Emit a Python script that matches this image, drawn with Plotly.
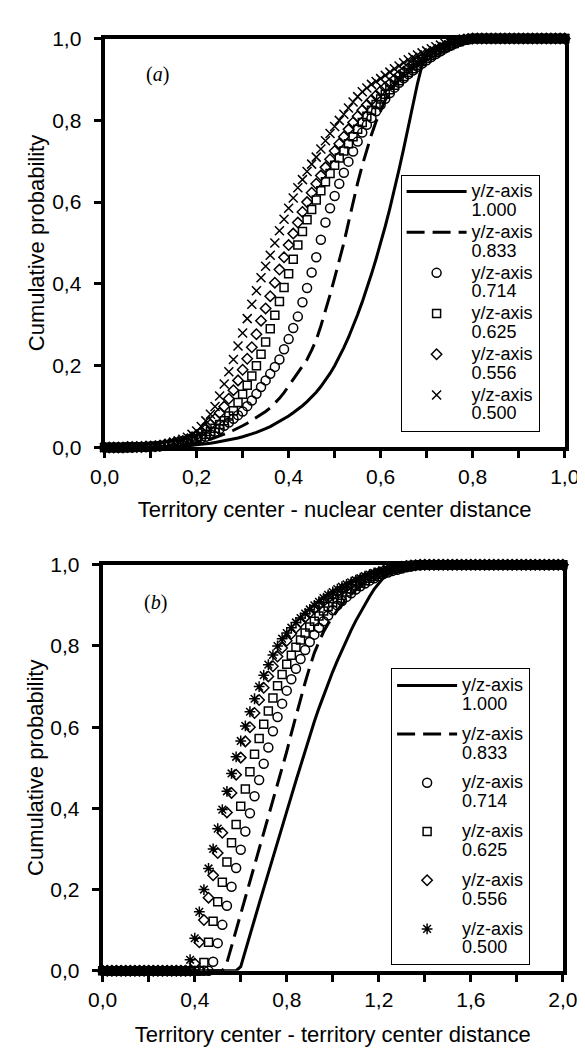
import plotly.graph_objects as go

# ---------------- Panel (a): territory center - nuclear center distance ----------------
TOP_X = [
    0.00, 0.01, 0.02, 0.03, 0.04, 0.05, 0.06, 0.07, 0.08, 0.09,
    0.10, 0.11, 0.12, 0.13, 0.14, 0.15, 0.16, 0.17, 0.18, 0.19,
    0.20, 0.21, 0.22, 0.23, 0.24, 0.25, 0.26, 0.27, 0.28, 0.29,
    0.30, 0.31, 0.32, 0.33, 0.34, 0.35, 0.36, 0.37, 0.38, 0.39,
    0.40, 0.41, 0.42, 0.43, 0.44, 0.45, 0.46, 0.47, 0.48, 0.49,
    0.50, 0.51, 0.52, 0.53, 0.54, 0.55, 0.56, 0.57, 0.58, 0.59,
    0.60, 0.61, 0.62, 0.63, 0.64, 0.65, 0.66, 0.67, 0.68, 0.69,
    0.70, 0.71, 0.72, 0.73, 0.74, 0.75, 0.76, 0.77, 0.78, 0.79,
    0.80, 0.81, 0.82, 0.83, 0.84, 0.85, 0.86, 0.87, 0.88, 0.89,
    0.90, 0.91, 0.92, 0.93, 0.94, 0.95, 0.96, 0.97, 0.98, 0.99,
    1.00,
]
TOP_1000 = [
    0, 0, 0, 0, 0, 0, 0, 0, 0, 0,
    0.001, 0.001, 0.001, 0.001, 0.002, 0.002, 0.003, 0.003, 0.004, 0.005,
    0.006, 0.007, 0.008, 0.010, 0.012, 0.014, 0.016, 0.018, 0.020, 0.023,
    0.026, 0.029, 0.033, 0.037, 0.041, 0.046, 0.051, 0.057, 0.063, 0.070,
    0.077, 0.085, 0.093, 0.102, 0.112, 0.123, 0.135, 0.149, 0.164, 0.181,
    0.200, 0.221, 0.244, 0.269, 0.296, 0.325, 0.356, 0.389, 0.424, 0.461,
    0.500, 0.541, 0.585, 0.631, 0.680, 0.731, 0.784, 0.838, 0.890, 0.935,
    0.955, 0.963, 0.970, 0.976, 0.981, 0.986, 0.990, 0.994, 0.997, 0.999,
    1.0, 1.0, 1.0, 1.0, 1.0, 1.0, 1.0, 1.0, 1.0, 1.0,
    1.0, 1.0, 1.0, 1.0, 1.0, 1.0, 1.0, 1.0, 1.0, 1.0,
    1.0,
]
TOP_0833 = [
    0, 0, 0, 0, 0, 0, 0, 0.001, 0.001, 0.001,
    0.001, 0.002, 0.002, 0.003, 0.003, 0.004, 0.005, 0.007, 0.008, 0.010,
    0.012, 0.014, 0.017, 0.020, 0.024, 0.028, 0.032, 0.037, 0.042, 0.047,
    0.053, 0.059, 0.066, 0.073, 0.080, 0.088, 0.097, 0.108, 0.120, 0.134,
    0.150, 0.165, 0.180, 0.197, 0.215, 0.238, 0.263, 0.297, 0.333, 0.373,
    0.415, 0.457, 0.500, 0.550, 0.600, 0.647, 0.690, 0.730, 0.765, 0.797,
    0.825, 0.850, 0.870, 0.886, 0.900, 0.911, 0.921, 0.930, 0.939, 0.947,
    0.955, 0.962, 0.968, 0.974, 0.980, 0.985, 0.990, 0.994, 0.997, 0.999,
    1.0, 1.0, 1.0, 1.0, 1.0, 1.0, 1.0, 1.0, 1.0, 1.0,
    1.0, 1.0, 1.0, 1.0, 1.0, 1.0, 1.0, 1.0, 1.0, 1.0,
    1.0,
]
TOP_0714 = [
    0, 0, 0, 0, 0, 0, 0, 0.001, 0.001, 0.001,
    0.002, 0.002, 0.003, 0.004, 0.005, 0.006, 0.008, 0.010, 0.012, 0.015,
    0.018, 0.022, 0.026, 0.032, 0.038, 0.045, 0.053, 0.061, 0.070, 0.079,
    0.088, 0.101, 0.115, 0.131, 0.148, 0.164, 0.180, 0.197, 0.215, 0.240,
    0.265, 0.292, 0.320, 0.355, 0.390, 0.428, 0.465, 0.508, 0.550, 0.585,
    0.615, 0.645, 0.672, 0.699, 0.724, 0.748, 0.770, 0.789, 0.806, 0.822,
    0.838, 0.853, 0.867, 0.880, 0.892, 0.903, 0.913, 0.922, 0.931, 0.939,
    0.947, 0.955, 0.962, 0.969, 0.976, 0.982, 0.987, 0.992, 0.996, 0.998,
    1.0, 1.0, 1.0, 1.0, 1.0, 1.0, 1.0, 1.0, 1.0, 1.0,
    1.0, 1.0, 1.0, 1.0, 1.0, 1.0, 1.0, 1.0, 1.0, 1.0,
    1.0,
]
TOP_0625 = [
    0, 0, 0, 0, 0, 0.001, 0.001, 0.001, 0.001, 0.001,
    0.002, 0.003, 0.004, 0.005, 0.006, 0.008, 0.010, 0.012, 0.015, 0.018,
    0.022, 0.027, 0.032, 0.039, 0.047, 0.056, 0.065, 0.077, 0.090, 0.110,
    0.130, 0.152, 0.175, 0.200, 0.228, 0.258, 0.290, 0.323, 0.357, 0.391,
    0.425, 0.460, 0.495, 0.528, 0.557, 0.582, 0.605, 0.628, 0.650, 0.670,
    0.690, 0.708, 0.725, 0.743, 0.760, 0.778, 0.795, 0.810, 0.825, 0.839,
    0.852, 0.864, 0.875, 0.886, 0.897, 0.907, 0.917, 0.926, 0.935, 0.944,
    0.952, 0.959, 0.966, 0.972, 0.978, 0.983, 0.988, 0.992, 0.996, 0.998,
    1.0, 1.0, 1.0, 1.0, 1.0, 1.0, 1.0, 1.0, 1.0, 1.0,
    1.0, 1.0, 1.0, 1.0, 1.0, 1.0, 1.0, 1.0, 1.0, 1.0,
    1.0,
]
TOP_0556 = [
    0, 0, 0, 0, 0, 0.001, 0.001, 0.001, 0.001, 0.002,
    0.002, 0.003, 0.004, 0.006, 0.008, 0.010, 0.013, 0.016, 0.020, 0.025,
    0.030, 0.037, 0.045, 0.056, 0.070, 0.084, 0.100, 0.119, 0.140, 0.164,
    0.190, 0.217, 0.245, 0.277, 0.310, 0.340, 0.370, 0.403, 0.435, 0.465,
    0.495, 0.523, 0.550, 0.576, 0.600, 0.623, 0.645, 0.665, 0.685, 0.705,
    0.725, 0.743, 0.760, 0.778, 0.795, 0.810, 0.825, 0.838, 0.850, 0.861,
    0.872, 0.881, 0.890, 0.900, 0.910, 0.919, 0.928, 0.936, 0.944, 0.951,
    0.958, 0.964, 0.970, 0.976, 0.982, 0.986, 0.990, 0.994, 0.997, 0.999,
    1.0, 1.0, 1.0, 1.0, 1.0, 1.0, 1.0, 1.0, 1.0, 1.0,
    1.0, 1.0, 1.0, 1.0, 1.0, 1.0, 1.0, 1.0, 1.0, 1.0,
    1.0,
]
TOP_0500 = [
    0, 0, 0, 0, 0, 0.001, 0.001, 0.001, 0.001, 0.002,
    0.002, 0.003, 0.005, 0.007, 0.010, 0.013, 0.016, 0.020, 0.025, 0.032,
    0.040, 0.051, 0.065, 0.081, 0.100, 0.126, 0.155, 0.185, 0.215, 0.248,
    0.280, 0.315, 0.350, 0.383, 0.415, 0.443, 0.470, 0.500, 0.530, 0.558,
    0.585, 0.610, 0.635, 0.655, 0.675, 0.693, 0.710, 0.730, 0.750, 0.768,
    0.785, 0.800, 0.815, 0.830, 0.845, 0.858, 0.870, 0.879, 0.888, 0.895,
    0.902, 0.910, 0.918, 0.926, 0.933, 0.941, 0.948, 0.954, 0.960, 0.965,
    0.970, 0.975, 0.980, 0.984, 0.988, 0.992, 0.995, 0.997, 0.999, 1.0,
    1.0, 1.0, 1.0, 1.0, 1.0, 1.0, 1.0, 1.0, 1.0, 1.0,
    1.0, 1.0, 1.0, 1.0, 1.0, 1.0, 1.0, 1.0, 1.0, 1.0,
    1.0,
]

# ---------------- Panel (b): territory center - territory center distance ----------------
BOT_X = [
    0.00, 0.02, 0.04, 0.06, 0.08, 0.10, 0.12, 0.14, 0.16, 0.18,
    0.20, 0.22, 0.24, 0.26, 0.28, 0.30, 0.32, 0.34, 0.36, 0.38,
    0.40, 0.42, 0.44, 0.46, 0.48, 0.50, 0.52, 0.54, 0.56, 0.58,
    0.60, 0.62, 0.64, 0.66, 0.68, 0.70, 0.72, 0.74, 0.76, 0.78,
    0.80, 0.82, 0.84, 0.86, 0.88, 0.90, 0.92, 0.94, 0.96, 0.98,
    1.00, 1.02, 1.04, 1.06, 1.08, 1.10, 1.12, 1.14, 1.16, 1.18,
    1.20, 1.22, 1.24, 1.26, 1.28, 1.30, 1.32, 1.34, 1.36, 1.38,
    1.40, 1.42, 1.44, 1.46, 1.48, 1.50, 1.52, 1.54, 1.56, 1.58,
    1.60, 1.62, 1.64, 1.66, 1.68, 1.70, 1.72, 1.74, 1.76, 1.78,
    1.80, 1.82, 1.84, 1.86, 1.88, 1.90, 1.92, 1.94, 1.96, 1.98,
    2.00,
]
BOT_1000 = [
    0, 0, 0, 0, 0, 0, 0, 0, 0, 0,
    0, 0, 0, 0, 0, 0, 0, 0, 0, 0,
    0, 0, 0, 0, 0, 0, 0, 0, 0, 0,
    0.010, 0.050, 0.090, 0.128, 0.165, 0.203, 0.240, 0.278, 0.316, 0.354,
    0.392, 0.430, 0.468, 0.506, 0.543, 0.579, 0.614, 0.647, 0.678, 0.708,
    0.737, 0.764, 0.790, 0.815, 0.839, 0.862, 0.883, 0.903, 0.922, 0.940,
    0.955, 0.968, 0.979, 0.988, 0.994, 0.998, 1.0, 1.0, 1.0, 1.0,
    1.0, 1.0, 1.0, 1.0, 1.0, 1.0, 1.0, 1.0, 1.0, 1.0,
    1.0, 1.0, 1.0, 1.0, 1.0, 1.0, 1.0, 1.0, 1.0, 1.0,
    1.0, 1.0, 1.0, 1.0, 1.0, 1.0, 1.0, 1.0, 1.0, 1.0,
    1.0,
]
BOT_0833 = [
    0, 0, 0, 0, 0, 0, 0, 0, 0, 0,
    0, 0, 0, 0, 0, 0, 0, 0, 0, 0,
    0, 0, 0, 0, 0, 0, 0, 0.020, 0.060, 0.100,
    0.140, 0.180, 0.220, 0.260, 0.300, 0.337, 0.375, 0.415, 0.455, 0.500,
    0.540, 0.585, 0.628, 0.668, 0.710, 0.748, 0.783, 0.810, 0.835, 0.855,
    0.873, 0.888, 0.902, 0.915, 0.927, 0.938, 0.948, 0.957, 0.965, 0.972,
    0.978, 0.983, 0.988, 0.992, 0.995, 0.997, 0.999, 1.0, 1.0, 1.0,
    1.0, 1.0, 1.0, 1.0, 1.0, 1.0, 1.0, 1.0, 1.0, 1.0,
    1.0, 1.0, 1.0, 1.0, 1.0, 1.0, 1.0, 1.0, 1.0, 1.0,
    1.0, 1.0, 1.0, 1.0, 1.0, 1.0, 1.0, 1.0, 1.0, 1.0,
    1.0,
]
BOT_0714 = [
    0, 0, 0, 0, 0, 0, 0, 0, 0, 0,
    0, 0, 0, 0, 0, 0, 0, 0, 0, 0,
    0, 0, 0, 0, 0.022, 0.068, 0.113, 0.160, 0.207, 0.253,
    0.298, 0.343, 0.388, 0.430, 0.470, 0.510, 0.550, 0.590, 0.625, 0.658,
    0.690, 0.718, 0.744, 0.768, 0.790, 0.810, 0.828, 0.845, 0.861, 0.875,
    0.888, 0.900, 0.911, 0.921, 0.930, 0.939, 0.947, 0.954, 0.961, 0.967,
    0.972, 0.977, 0.981, 0.985, 0.988, 0.991, 0.994, 0.996, 0.998, 0.999,
    1.0, 1.0, 1.0, 1.0, 1.0, 1.0, 1.0, 1.0, 1.0, 1.0,
    1.0, 1.0, 1.0, 1.0, 1.0, 1.0, 1.0, 1.0, 1.0, 1.0,
    1.0, 1.0, 1.0, 1.0, 1.0, 1.0, 1.0, 1.0, 1.0, 1.0,
    1.0,
]
BOT_0625 = [
    0, 0, 0, 0, 0, 0, 0, 0, 0, 0,
    0, 0, 0, 0, 0, 0, 0, 0, 0, 0,
    0, 0, 0.020, 0.070, 0.122, 0.170, 0.218, 0.268, 0.315, 0.360,
    0.405, 0.448, 0.490, 0.533, 0.572, 0.607, 0.640, 0.672, 0.702, 0.730,
    0.755, 0.777, 0.797, 0.815, 0.832, 0.847, 0.861, 0.874, 0.886, 0.897,
    0.907, 0.916, 0.925, 0.933, 0.941, 0.948, 0.955, 0.961, 0.967, 0.972,
    0.977, 0.981, 0.985, 0.988, 0.991, 0.994, 0.996, 0.998, 0.999, 1.0,
    1.0, 1.0, 1.0, 1.0, 1.0, 1.0, 1.0, 1.0, 1.0, 1.0,
    1.0, 1.0, 1.0, 1.0, 1.0, 1.0, 1.0, 1.0, 1.0, 1.0,
    1.0, 1.0, 1.0, 1.0, 1.0, 1.0, 1.0, 1.0, 1.0, 1.0,
    1.0,
]
BOT_0556 = [
    0, 0, 0, 0, 0, 0, 0, 0, 0, 0,
    0, 0, 0, 0, 0, 0, 0, 0, 0, 0,
    0.018, 0.070, 0.125, 0.180, 0.235, 0.290, 0.340, 0.390, 0.438, 0.483,
    0.525, 0.565, 0.600, 0.635, 0.667, 0.697, 0.725, 0.750, 0.774, 0.795,
    0.813, 0.830, 0.845, 0.859, 0.871, 0.882, 0.892, 0.901, 0.910, 0.918,
    0.926, 0.933, 0.940, 0.946, 0.952, 0.958, 0.963, 0.968, 0.973, 0.977,
    0.981, 0.985, 0.988, 0.991, 0.993, 0.995, 0.997, 0.998, 0.999, 1.0,
    1.0, 1.0, 1.0, 1.0, 1.0, 1.0, 1.0, 1.0, 1.0, 1.0,
    1.0, 1.0, 1.0, 1.0, 1.0, 1.0, 1.0, 1.0, 1.0, 1.0,
    1.0, 1.0, 1.0, 1.0, 1.0, 1.0, 1.0, 1.0, 1.0, 1.0,
    1.0,
]
BOT_0500 = [
    0, 0, 0, 0, 0, 0, 0, 0, 0, 0,
    0, 0, 0, 0, 0, 0, 0, 0, 0, 0.027,
    0.080, 0.145, 0.200, 0.252, 0.300, 0.350, 0.397, 0.442, 0.486, 0.527,
    0.566, 0.603, 0.638, 0.670, 0.700, 0.728, 0.754, 0.778, 0.800, 0.818,
    0.832, 0.845, 0.858, 0.869, 0.880, 0.890, 0.900, 0.909, 0.918, 0.926,
    0.933, 0.940, 0.946, 0.952, 0.957, 0.962, 0.967, 0.972, 0.976, 0.980,
    0.983, 0.986, 0.989, 0.992, 0.994, 0.996, 0.997, 0.998, 0.999, 1.0,
    1.0, 1.0, 1.0, 1.0, 1.0, 1.0, 1.0, 1.0, 1.0, 1.0,
    1.0, 1.0, 1.0, 1.0, 1.0, 1.0, 1.0, 1.0, 1.0, 1.0,
    1.0, 1.0, 1.0, 1.0, 1.0, 1.0, 1.0, 1.0, 1.0, 1.0,
    1.0,
]

SERIES_LABEL = "y/z-axis"
SERIES_VALUES = ["1.000", "0.833", "0.714", "0.625", "0.556", "0.500"]

FONT = "Liberation Sans, Arial, Helvetica, sans-serif"
SERIF = "Liberation Serif, Times New Roman, serif"
LEG_SPAN = '<span style="font-size:18px">{}</span>'


def legend_name(value):
    return LEG_SPAN.format(SERIES_LABEL) + "<br>" + LEG_SPAN.format(value)


fig = go.Figure()


def add_panel(xs, ys_list, xa, ya, legend, x_marker, tag):
    solid, dashed, circ, sq, dia, crs = ys_list
    fig.add_trace(go.Scatter(x=xs, y=solid, mode="lines", name=legend_name(SERIES_VALUES[0]),
                             line=dict(color="black", width=3), xaxis=xa, yaxis=ya,
                             legend=legend, legendgroup=tag + "0", cliponaxis=False))
    fig.add_trace(go.Scatter(x=xs, y=dashed, mode="lines", name=legend_name(SERIES_VALUES[1]),
                             line=dict(color="black", width=3, dash="18px,8px"), xaxis=xa, yaxis=ya,
                             legend=legend, legendgroup=tag + "1", cliponaxis=False))
    specs = [(circ, "circle-open", 9, SERIES_VALUES[2]),
             (sq, "square-open", 8, SERIES_VALUES[3]),
             (dia, "diamond-open", 8, SERIES_VALUES[4]),
             (crs, x_marker, 9, SERIES_VALUES[5])]
    for i, (ys, sym, size, val) in enumerate(specs):
        fig.add_trace(go.Scatter(x=xs, y=ys, mode="markers", name=legend_name(val),
                                 marker=dict(symbol=sym, size=size, color="black",
                                             line=dict(color="black", width=1.5)),
                                 xaxis=xa, yaxis=ya, legend=legend,
                                 legendgroup=tag + str(i + 2), cliponaxis=False))


add_panel(TOP_X, [TOP_1000, TOP_0833, TOP_0714, TOP_0625, TOP_0556, TOP_0500],
          "x", "y", "legend", "x-thin-open", "a")
add_panel(BOT_X, [BOT_1000, BOT_0833, BOT_0714, BOT_0625, BOT_0556, BOT_0500],
          "x2", "y2", "legend2", "asterisk-open", "b")

TOP_XDOM = [86 / 585, 571 / 585]
TOP_YDOM = [1 - 437 / 1051, 1 - 19 / 1051]
BOT_XDOM = [84 / 585, 569 / 585]
BOT_YDOM = [1 - 972 / 1051, 1 - 557 / 1051]

TICKFONT = dict(family=FONT, size=21, color="black")
TITLEFONT = dict(family=FONT, size=22, color="black")


def main_axis(domain, anchor, rng, dtick, minor_dtick, title, standoff, labelstand):
    d = dict(domain=domain, anchor=anchor, range=rng, autorange=False,
             showline=True, linewidth=4, linecolor="black", mirror=True,
             ticks="outside", ticklen=7, tickwidth=3, tickcolor="black",
             tick0=0, dtick=dtick, tickformat=".1f", tickfont=TICKFONT,
             showgrid=False, zeroline=False, layer="below traces",
             ticklabelstandoff=labelstand,
             title=dict(text=title, font=TITLEFONT, standoff=standoff))
    if minor_dtick:
        d["minor"] = dict(tick0=0, dtick=minor_dtick, ticks="outside", ticklen=7,
                          tickwidth=3, tickcolor="black", showgrid=False)
    return d


def inner_axis(domain, anchor, overlay, rng, dtick, minor_dtick):
    d = dict(domain=domain, anchor=anchor, overlaying=overlay, range=rng, autorange=False,
             showline=False, ticks="inside", ticklen=7, tickwidth=3, tickcolor="black",
             tick0=0, dtick=dtick, showticklabels=False, showgrid=False, zeroline=False,
             layer="below traces")
    if minor_dtick:
        d["minor"] = dict(tick0=0, dtick=minor_dtick, ticks="inside", ticklen=7,
                          tickwidth=3, tickcolor="black", showgrid=False)
    return d


LEGEND_COMMON = dict(xanchor="left", yanchor="top", bordercolor="black", borderwidth=1,
                     bgcolor="white", font=dict(family=FONT, size=14.5, color="black"),
                     itemwidth=60, valign="top", traceorder="grouped")

fig.update_layout(
    width=585, height=1051, autosize=False,
    margin=dict(l=0, r=0, t=0, b=0),
    paper_bgcolor="white", plot_bgcolor="white",
    separators=",.",
    showlegend=True,
    xaxis=main_axis(TOP_XDOM, "y", [0, 1], 0.2, 0.1,
                    "Territory center - nuclear center distance", 16, 0),
    yaxis=main_axis(TOP_YDOM, "x", [0, 1], 0.2, None, "Cumulative probability", 2, 8),
    xaxis2=main_axis(BOT_XDOM, "y2", [0, 2], 0.4, 0.2,
                     "Territory center - territory center distance", 18, 0),
    yaxis2=main_axis(BOT_YDOM, "x2", [0, 1], 0.2, None, "Cumulative probability", 2, 8),
    xaxis3=inner_axis(TOP_XDOM, "y", "x", [0, 1], 0.2, 0.1),
    yaxis3=inner_axis(TOP_YDOM, "x", "y", [0, 1], 0.2, None),
    xaxis4=inner_axis(BOT_XDOM, "y2", "x2", [0, 2], 0.4, 0.2),
    yaxis4=inner_axis(BOT_YDOM, "x2", "y2", [0, 1], 0.2, None),
    legend=dict(x=398 / 585, y=1 - 158 / 1051, tracegroupgap=0, **LEGEND_COMMON),
    legend2=dict(x=388 / 585, y=1 - 663 / 1051, tracegroupgap=8, **LEGEND_COMMON),
    annotations=[
        dict(text="(<i>a</i>)", xref="x domain", yref="y domain", x=0.085, y=0.945,
             showarrow=False, font=dict(family=SERIF, size=20, color="black")),
        dict(text="(<i>b</i>)", xref="x2 domain", yref="y2 domain", x=0.085, y=0.94,
             showarrow=False, font=dict(family=SERIF, size=20, color="black")),
    ],
)

fig.write_html("out.html")
